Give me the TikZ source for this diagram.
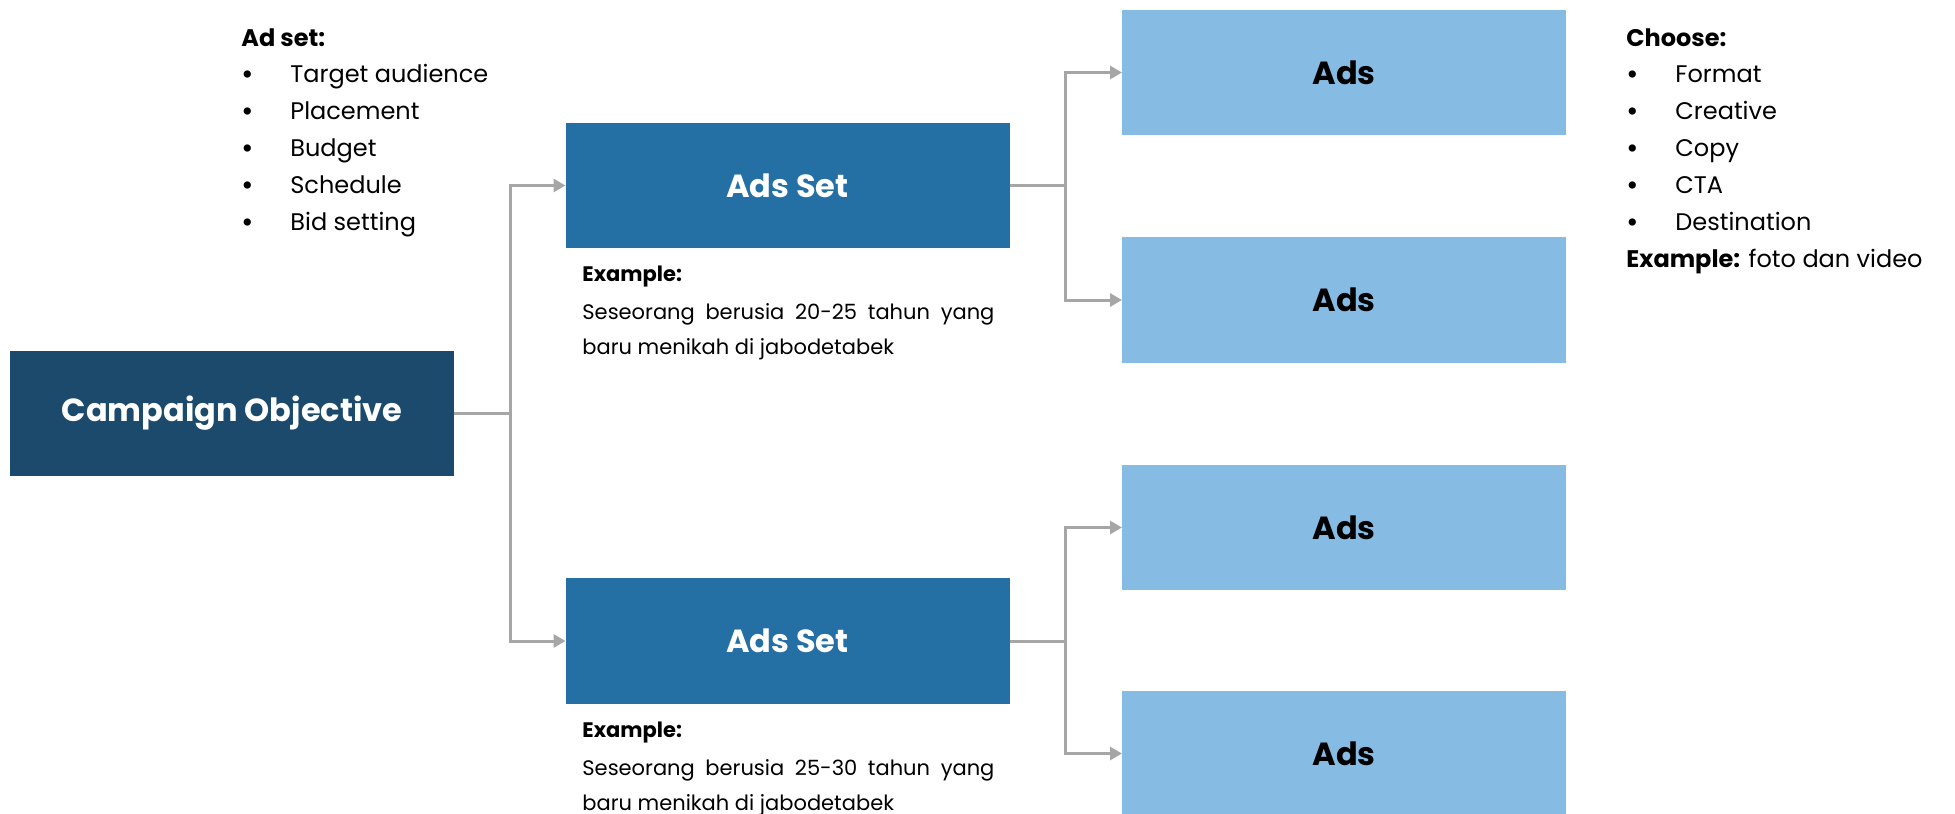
\documentclass[tikz,border=0pt]{standalone}
\usepackage{fontspec}
\setmainfont{Poppins}
\usetikzlibrary{arrows.meta}
\definecolor{cobj}{HTML}{1B4A6C}
\definecolor{cset}{HTML}{2470A5}
\definecolor{cads}{HTML}{86BCE3}
\definecolor{cline}{HTML}{A6A6A6}
\tikzset{
  box/.style={inner sep=0pt, outer sep=0pt, minimum width=222pt, minimum height=62.75pt, font=\bfseries\fontsize{16}{19}\selectfont},
  objbox/.style={box, fill=cobj, text=white},
  setbox/.style={box, fill=cset, text=white},
  adsbox/.style={box, fill=cads, text=black},
  conn/.style={draw=cline, line width=1.5pt, -{Triangle[length=6pt,width=6.5pt]}},
  body/.style={inner sep=0pt, anchor=base west, font=\fontsize{12}{14}\selectfont},
  bodyb/.style={body, font=\bfseries\fontsize{12}{14}\selectfont},
  small/.style={inner sep=0pt, anchor=base west, font=\fontsize{10.5}{12}\selectfont},
  smallb/.style={small, font=\bfseries\fontsize{10.5}{12}\selectfont},
}
\newcommand{\bul}[1]{\makebox[24.5pt][l]{\bfseries\textbullet}#1}
\begin{document}
\begin{tikzpicture}[x=0.5pt,y=-0.5pt]
\useasboundingbox[fill=white] (0,0) rectangle (1955,814);
% boxes
\node[objbox] (co) at (232,413.5) {Campaign Objective};
\node[setbox] (as1) at (787.5,185.5) {Ads Set};
\node[setbox] (as2) at (787.5,641) {Ads Set};
\node[adsbox] (a1) at (1344,72.5) {Ads};
\node[adsbox] (a2) at (1344,300) {Ads};
\node[adsbox] (a3) at (1344,527.5) {Ads};
\node[adsbox] (a4) at (1344,753.5) {Ads};
% connectors
\coordinate (j0) at (510,413.5);
\coordinate (j1) at (1065.5,185.5);
\coordinate (j2) at (1065.5,641);
\draw[conn] (co.east) -- (j0) |- (as1.west);
\draw[conn] (j0) |- (as2.west);
\draw[conn] (as1.east) -- (j1) |- (a1.west);
\draw[conn] (j1) |- (a2.west);
\draw[conn] (as2.east) -- (j2) |- (a3.west);
\draw[conn] (j2) |- (a4.west);
% left list
\node[bodyb] (adset) at (241,46) {Ad set:};
\node[body] (l1) at (241,82) {\bul{Target audience}};
\node[body] (l2) at (241,119) {\bul{Placement}};
\node[body] (l3) at (241,156) {\bul{Budget}};
\node[body] (l4) at (241,193) {\bul{Schedule}};
\node[body] (l5) at (241,230) {\bul{Bid setting}};
% right list
\node[bodyb] (choose) at (1626,46) {Choose:};
\node[body] (r1) at (1626,82) {\bul{Format}};
\node[body] (r2) at (1626,119) {\bul{Creative}};
\node[body] (r3) at (1626,156) {\bul{Copy}};
\node[body] (r4) at (1626,193) {\bul{CTA}};
\node[body] (r5) at (1626,230) {\bul{Destination}};
\node[body] (rex) at (1626,267) {\textbf{Example:} foto dan video};
% examples
\node[smallb] (ex1) at (582,281) {Example:};
\node[small] (ex1a) at (582,319) {\makebox[206pt][s]{Seseorang berusia 20-25 tahun yang}};
\node[small] (ex1b) at (582,354) {baru menikah di jabodetabek};
\node[smallb] (ex2) at (582,737) {Example:};
\node[small] (ex2a) at (582,775) {\makebox[206pt][s]{Seseorang berusia 25-30 tahun yang}};
\node[small] (ex2b) at (582,810) {baru menikah di jabodetabek};
\end{tikzpicture}
\end{document}
